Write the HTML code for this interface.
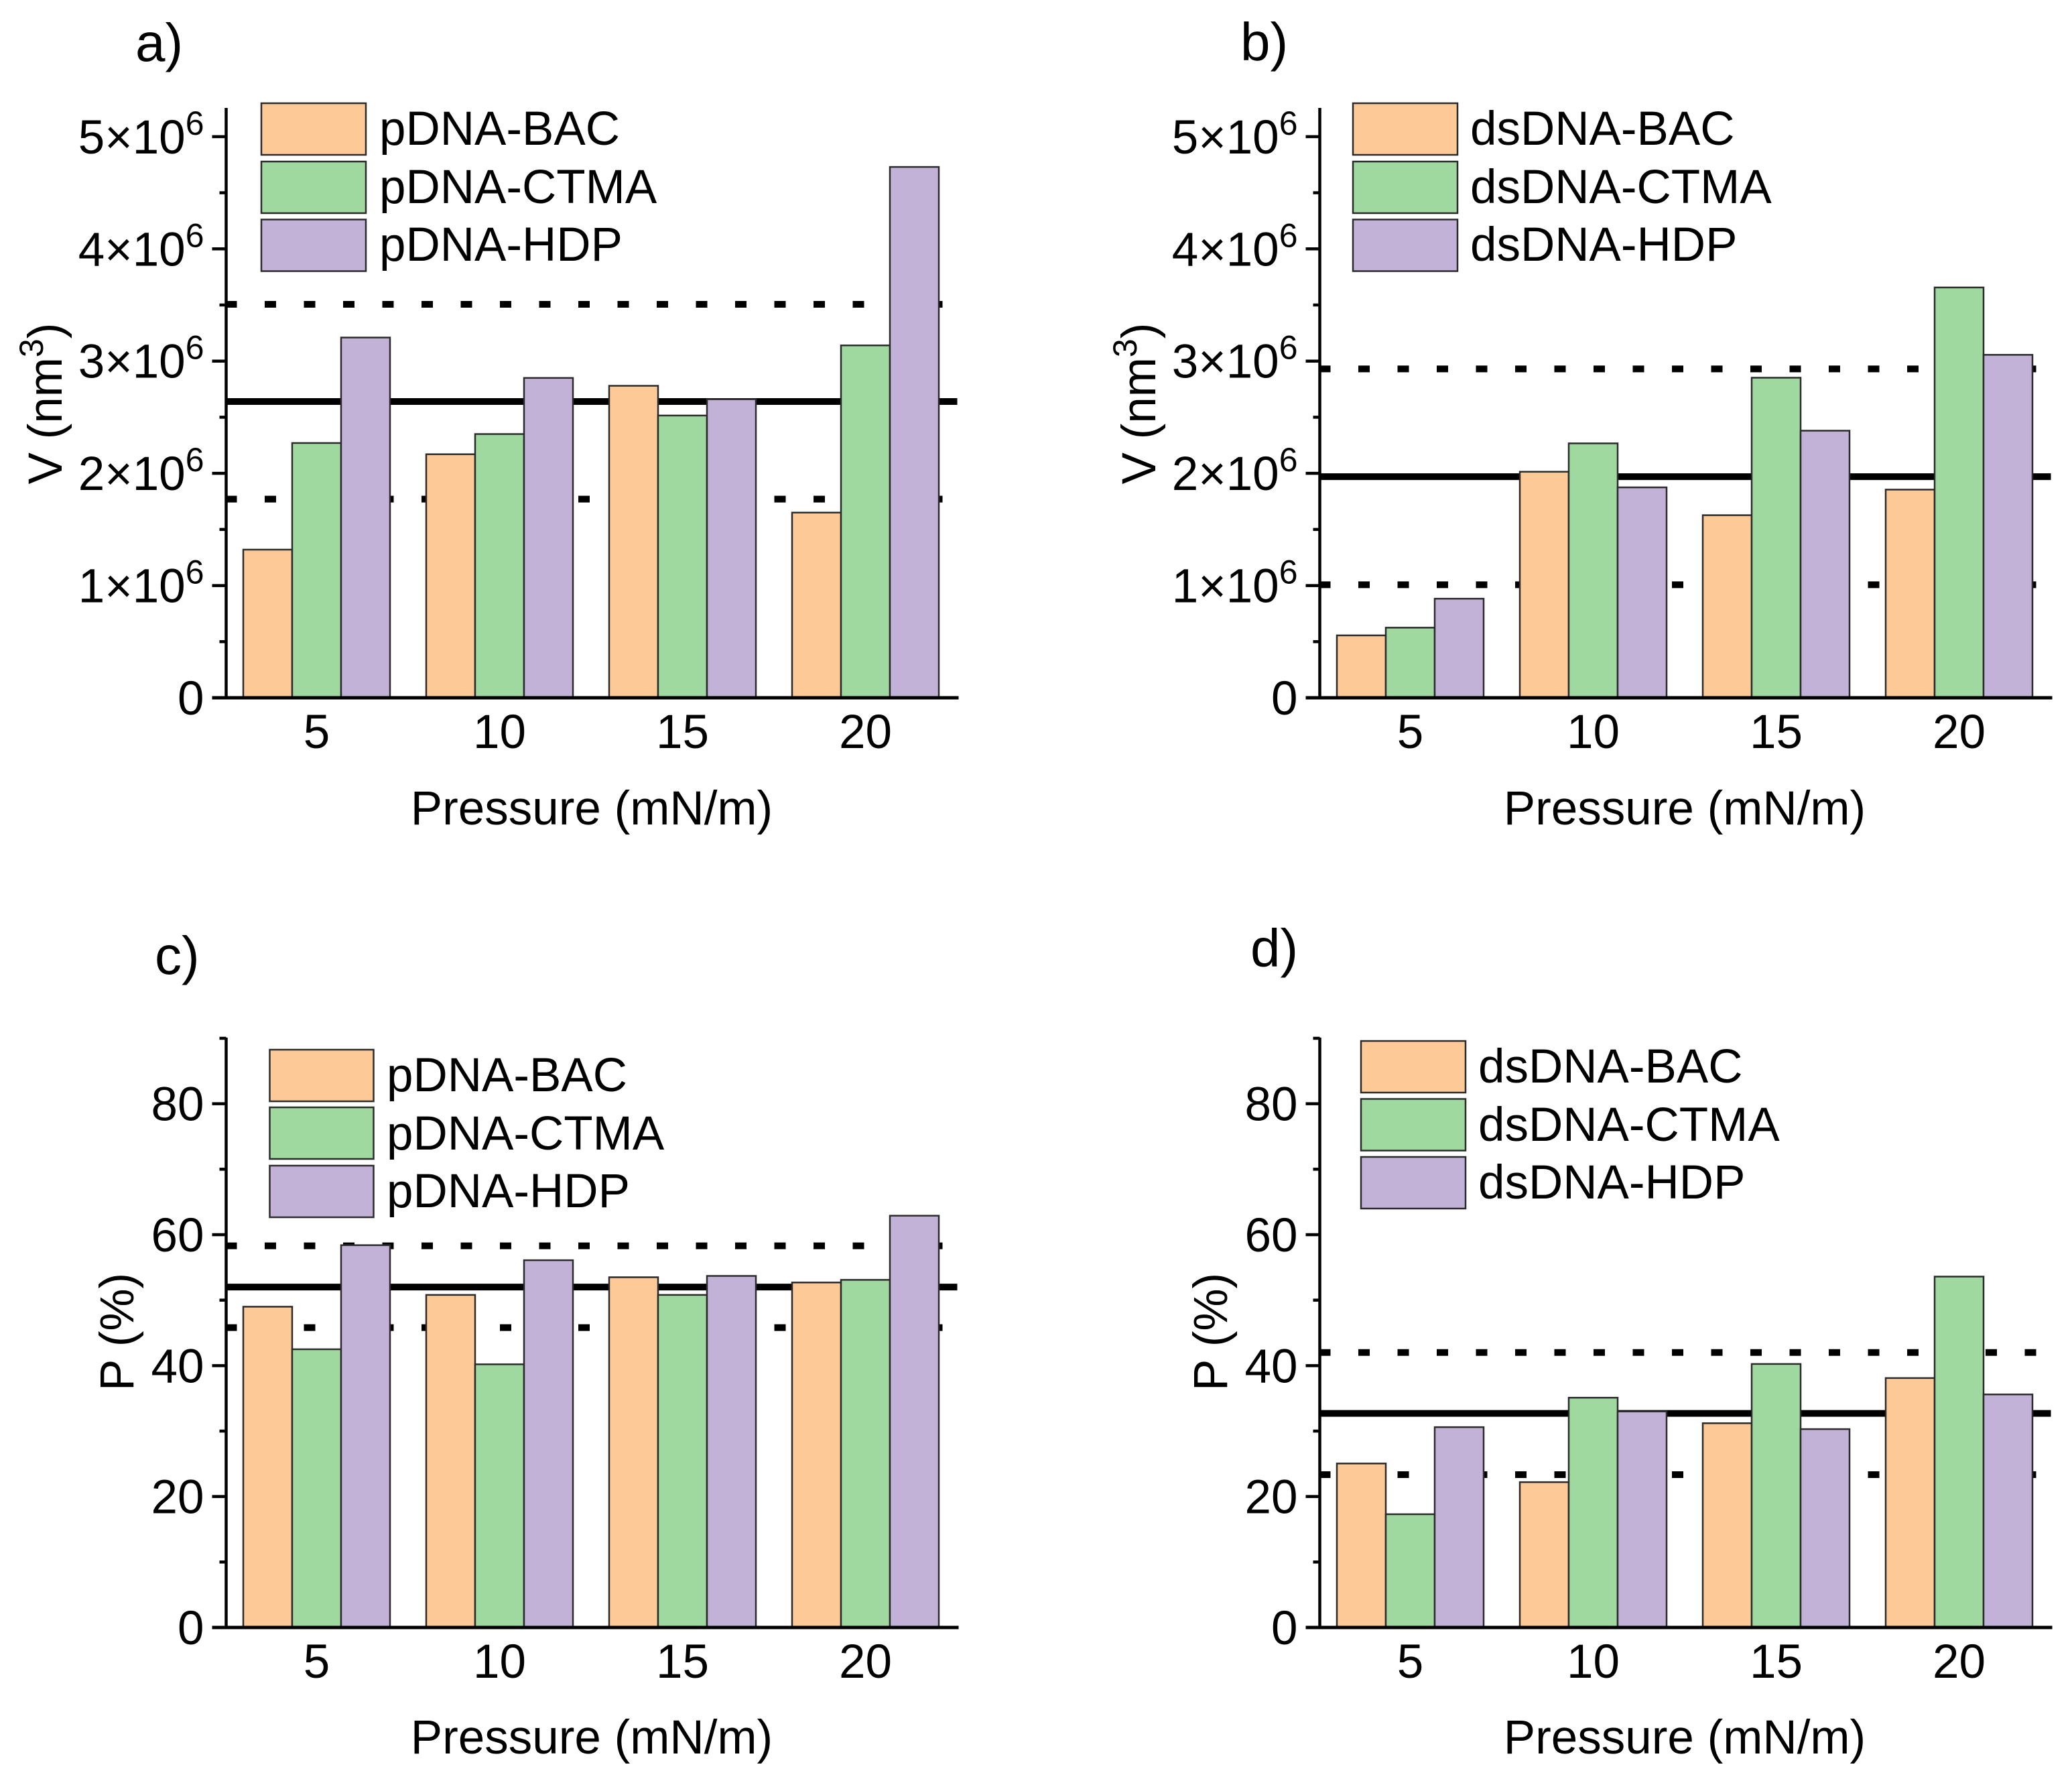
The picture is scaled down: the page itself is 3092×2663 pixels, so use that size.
<!DOCTYPE html>
<html lang="en">
<head>
<meta charset="utf-8">
<title>DNA film volume and porosity versus pressure</title>
<style>
html,body{margin:0;padding:0;background:#fff;width:3092px;height:2663px;overflow:hidden}
svg{display:block}
text{font-family:"Liberation Sans",Arial,sans-serif;fill:#000;font-size:71px}
</style>
</head>
<body>
<svg id="figure" xmlns="http://www.w3.org/2000/svg" width="3092" height="2663" viewBox="0 0 3092 2663">
  <rect x="0" y="0" width="3092" height="2663" fill="#ffffff"/>

  <g id="panel-a"></g>
  <g id="panel-b"></g>
  <g id="panel-c"></g>
  <g id="panel-d"></g>

  <text x="202" y="91" style="font-size:80px">a)</text>
  <text x="1851" y="90" style="font-size:80px">b)</text>
  <text x="231" y="1453" style="font-size:80px">c)</text>
  <text x="1866" y="1442" style="font-size:80px">d)</text>

  <text x="883" y="1230" text-anchor="middle">Pressure (mN/m)</text>
  <text x="2514" y="1230" text-anchor="middle">Pressure (mN/m)</text>
  <text x="883" y="2616" text-anchor="middle">Pressure (mN/m)</text>
  <text x="2514" y="2616" text-anchor="middle">Pressure (mN/m)</text>

  <text transform="translate(92,602) rotate(-90)" text-anchor="middle">V (nm<tspan dy="-28" style="font-size:50px">3</tspan><tspan dy="28">)</tspan></text>
  <text transform="translate(1724,602) rotate(-90)" text-anchor="middle">V (nm<tspan dy="-28" style="font-size:50px">3</tspan><tspan dy="28">)</tspan></text>
  <text transform="translate(199,1987) rotate(-90)" text-anchor="middle">P (%)</text>
  <text transform="translate(1831,1987) rotate(-90)" text-anchor="middle">P (%)</text>

  <g>
    <rect x="390" y="154" width="156" height="77" fill="#fdc997" stroke="#2b2b2b" stroke-width="2.5"/>
    <rect x="390" y="241" width="156" height="77" fill="#9fd99f" stroke="#2b2b2b" stroke-width="2.5"/>
    <rect x="390" y="327.5" width="156" height="77" fill="#c2b2d8" stroke="#2b2b2b" stroke-width="2.5"/>
    <text x="566" y="216">pDNA-BAC</text>
    <text x="566" y="303">pDNA-CTMA</text>
    <text x="566" y="389">pDNA-HDP</text>
  </g>
  <g>
    <rect x="2019" y="154" width="156" height="77" fill="#fdc997" stroke="#2b2b2b" stroke-width="2.5"/>
    <rect x="2019" y="241" width="156" height="77" fill="#9fd99f" stroke="#2b2b2b" stroke-width="2.5"/>
    <rect x="2019" y="327.5" width="156" height="77" fill="#c2b2d8" stroke="#2b2b2b" stroke-width="2.5"/>
    <text x="2194" y="216">dsDNA-BAC</text>
    <text x="2194" y="303">dsDNA-CTMA</text>
    <text x="2194" y="389">dsDNA-HDP</text>
  </g>
  <g>
    <rect x="402.5" y="1566" width="155" height="77" fill="#fdc997" stroke="#2b2b2b" stroke-width="2.5"/>
    <rect x="402.5" y="1652" width="155" height="77" fill="#9fd99f" stroke="#2b2b2b" stroke-width="2.5"/>
    <rect x="402.5" y="1739" width="155" height="77" fill="#c2b2d8" stroke="#2b2b2b" stroke-width="2.5"/>
    <text x="577" y="1628">pDNA-BAC</text>
    <text x="577" y="1715">pDNA-CTMA</text>
    <text x="577" y="1801">pDNA-HDP</text>
  </g>
  <g>
    <rect x="2031" y="1553" width="156" height="77" fill="#fdc997" stroke="#2b2b2b" stroke-width="2.5"/>
    <rect x="2031" y="1639.5" width="156" height="77" fill="#9fd99f" stroke="#2b2b2b" stroke-width="2.5"/>
    <rect x="2031" y="1726" width="156" height="77" fill="#c2b2d8" stroke="#2b2b2b" stroke-width="2.5"/>
    <text x="2206" y="1615">dsDNA-BAC</text>
    <text x="2206" y="1702">dsDNA-CTMA</text>
    <text x="2206" y="1788">dsDNA-HDP</text>
  </g>
</svg>

<script>
// Shared categories and tick labels
var pressures = ['5', '10', '15', '20'];
var seriesNames = ['bac', 'ctma', 'hdp'];
var volumeMajorTicks = [0, 1e6, 2e6, 3e6, 4e6, 5e6];
var volumeMinorTicks = [0.5e6, 1.5e6, 2.5e6, 3.5e6, 4.5e6];
var porosityMajorTicks = [0, 20, 40, 60, 80];
var porosityMinorTicks = [10, 30, 50, 70, 90];

// Panel a: pDNA volume (nm^3)
var aBac = [1.32e6, 2.17e6, 2.78e6, 1.65e6];
var aCtma = [2.27e6, 2.35e6, 2.515e6, 3.14e6];
var aHdp = [3.21e6, 2.85e6, 2.66e6, 4.73e6];
var aMean = 2.64e6;
var aUpper = 3.506e6;
var aLower = 1.77e6;

// Panel b: dsDNA volume (nm^3)
var bBac = [0.556e6, 2.014e6, 1.627e6, 1.855e6];
var bCtma = [0.625e6, 2.267e6, 2.852e6, 3.656e6];
var bHdp = [0.883e6, 1.875e6, 2.38e6, 3.056e6];
var bMean = 1.97e6;
var bUpper = 2.93e6;
var bLower = 1.007e6;

// Panel c: pDNA porosity (%)
var cBac = [49.0, 50.8, 53.5, 52.7];
var cCtma = [42.5, 40.2, 50.8, 53.1];
var cHdp = [58.4, 56.1, 53.7, 62.9];
var cMean = 52.0;
var cUpper = 58.3;
var cLower = 45.8;

// Panel d: dsDNA porosity (%)
var dBac = [25.05, 22.2, 31.2, 38.1];
var dCtma = [17.3, 35.1, 40.25, 53.6];
var dHdp = [30.6, 33.0, 30.3, 35.6];
var dMean = 32.7;
var dUpper = 42.0;
var dLower = 23.35;

var SVG_NS = 'http://www.w3.org/2000/svg';
var FILLS = ['#fdc997', '#9fd99f', '#c2b2d8'];

function node(parent, tag, attrs) {
  var el = document.createElementNS(SVG_NS, tag);
  for (var k in attrs) { el.setAttribute(k, attrs[k]); }
  parent.appendChild(el);
  return el;
}

function drawPanel(cfg) {
  var root = document.getElementById(cfg.id);
  var axisX = cfg.axisX;
  var y0 = cfg.y0;
  var yScale = function (v) { return y0 - (v / cfg.yMax) * cfg.plotHeight; };
  var groupCenter = function (i) { return axisX + 135 + i * 273; };
  var barWidth = 73;
  var lineLeft = axisX - 1;
  var el;

  // Reference lines sit behind the bars
  el = node(root, 'line', { x1: lineLeft, x2: lineLeft + 1070, y1: yScale(cfg.upper), y2: yScale(cfg.upper), stroke: '#000', 'stroke-width': 10, 'stroke-dasharray': '17 41.5' });
  
  
  el = node(root, 'line', { x1: lineLeft, x2: lineLeft + 1070, y1: yScale(cfg.lower), y2: yScale(cfg.lower), stroke: '#000', 'stroke-width': 10, 'stroke-dasharray': '17 41.5' });
  
  
  el = node(root, 'line', { x1: axisX, x2: axisX + 1091, y1: yScale(cfg.mean), y2: yScale(cfg.mean), stroke: '#000', 'stroke-width': 10 });
  
  

  // Bars
  cfg.series.forEach(function (values, s) {
    values.forEach(function (v, i) {
      var x = groupCenter(i) + (s - 1.5) * barWidth;
      var top = yScale(v);
      var bar = node(root, 'rect', { x: x, y: top, width: barWidth, height: y0 - top, fill: FILLS[s], stroke: '#2b2b2b', 'stroke-width': 2.5 });
      
      
    });
  });

  // Y axis line, ticks and labels
  el = node(root, 'line', { x1: axisX, x2: axisX, y1: cfg.axisTop, y2: y0 + 2.5, stroke: '#000', 'stroke-width': 4.5 });
  
  

  cfg.minorTicks.forEach(function (v) {
    var t = node(root, 'line', { x1: axisX - 10, x2: axisX, y1: yScale(v), y2: yScale(v), stroke: '#000', 'stroke-width': 4.5 });
    
    
  });

  cfg.majorTicks.forEach(function (v) {
    var t = node(root, 'line', { x1: axisX - 21, x2: axisX, y1: yScale(v), y2: yScale(v), stroke: '#000', 'stroke-width': 4.5 });
    
    
    var label = node(root, 'text', { x: axisX - 33, y: yScale(v) + 25, 'text-anchor': 'end' });
    
    
    if (cfg.exponent && v !== 0) {
      var base = node(label, 'tspan', {});
      base.textContent = (v / Math.pow(10, cfg.exponent)) + '\u00d710';
      var sup = node(label, 'tspan', { dy: -28, style: 'font-size:50px' });
      sup.textContent = String(cfg.exponent);
    } else {
      label.textContent = String(v);
    }
  });

  // X axis line and category labels
  el = node(root, 'line', { x1: axisX - 21, x2: axisX + 1093, y1: y0, y2: y0, stroke: '#000', 'stroke-width': 5 });
  
  

  pressures.forEach(function (p, i) {
    var label = node(root, 'text', { x: groupCenter(i), y: y0 + 75, 'text-anchor': 'middle' });
    
    
    label.textContent = p;
  });
}

drawPanel({ id: 'panel-a', axisX: 337.5, y0: 1041, plotHeight: 879, yMax: 5.25e6, axisTop: 161, exponent: 6, majorTicks: volumeMajorTicks, minorTicks: volumeMinorTicks, series: [aBac, aCtma, aHdp], mean: aMean, upper: aUpper, lower: aLower });
drawPanel({ id: 'panel-b', axisX: 1969.5, y0: 1041, plotHeight: 879, yMax: 5.25e6, axisTop: 161, exponent: 6, majorTicks: volumeMajorTicks, minorTicks: volumeMinorTicks, series: [bBac, bCtma, bHdp], mean: bMean, upper: bUpper, lower: bLower });
drawPanel({ id: 'panel-c', axisX: 337.5, y0: 2428, plotHeight: 879, yMax: 90, axisTop: 1548, exponent: 0, majorTicks: porosityMajorTicks, minorTicks: porosityMinorTicks, series: [cBac, cCtma, cHdp], mean: cMean, upper: cUpper, lower: cLower });
drawPanel({ id: 'panel-d', axisX: 1969.5, y0: 2428, plotHeight: 879, yMax: 90, axisTop: 1548, exponent: 0, majorTicks: porosityMajorTicks, minorTicks: porosityMinorTicks, series: [dBac, dCtma, dHdp], mean: dMean, upper: dUpper, lower: dLower });
</script>
</body>
</html>
